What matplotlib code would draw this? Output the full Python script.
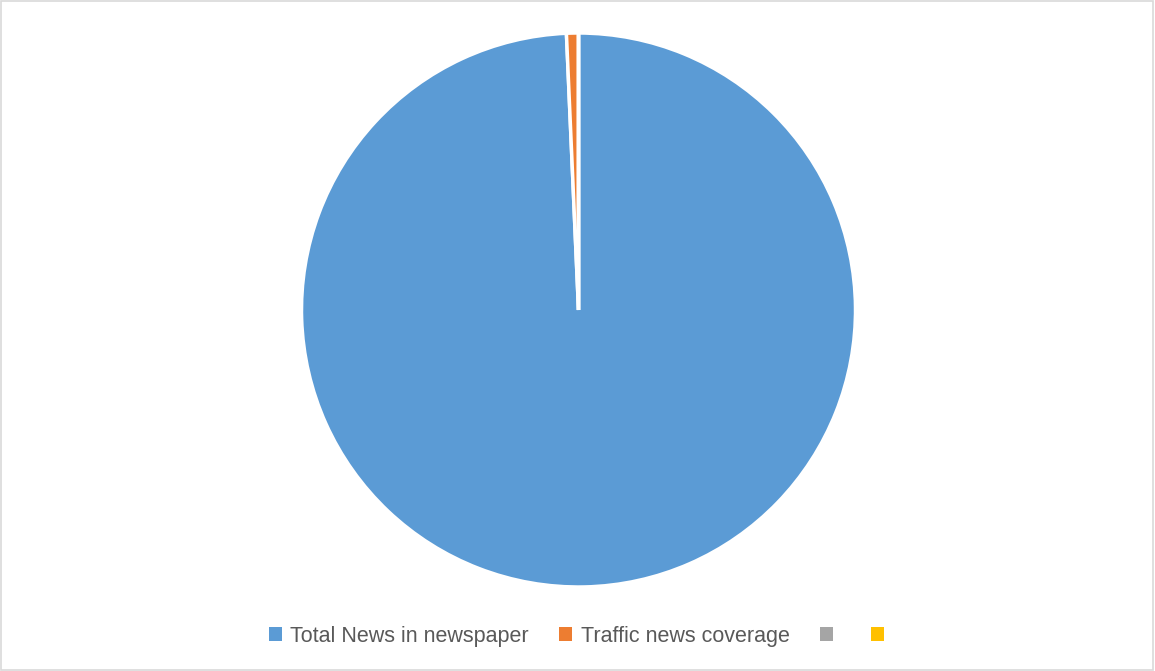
import matplotlib.pyplot as plt
from matplotlib.patches import Patch, Rectangle

labels = ["Total News in newspaper", "Traffic news coverage", "", ""]
values = [1000, 7, 0, 0]
colors = ["#5b9bd5", "#ed7d31", "#a5a5a5", "#ffc000"]

plt.rcParams["font.family"] = ["Liberation Sans", "DejaVu Sans"]

fig = plt.figure(figsize=(11.55, 6.71), dpi=100)
fig.patches.append(Rectangle((0.001, 0.001), 0.997, 0.997, transform=fig.transFigure,
                             fill=False, edgecolor="#d9d9d9", linewidth=1.2))

# pie axes: centre (578, 310) px, radius 277 px
cx, cy, r = 578.5, 671 - 310, 277
ax = fig.add_axes([(cx - r) / 1155, (cy - r) / 671, 2 * r / 1155, 2 * r / 671])
ax.pie(values, colors=colors, startangle=90, counterclock=False, radius=1,
       wedgeprops=dict(edgecolor="white", linewidth=2.5))
ax.set_xlim(-1, 1)
ax.set_ylim(-1, 1)
ax.set_aspect("equal")
ax.axis("off")

handles = [Patch(facecolor=c, edgecolor="none") for c in colors]
fig.legend(handles, labels, loc="center", bbox_to_anchor=(0.503, 0.052), ncol=4,
           frameon=False, fontsize=15.5, labelcolor="#595959",
           handlelength=0.6, handleheight=0.6, handletextpad=0.4, columnspacing=1.4)

fig.savefig("out.png", dpi=100)
